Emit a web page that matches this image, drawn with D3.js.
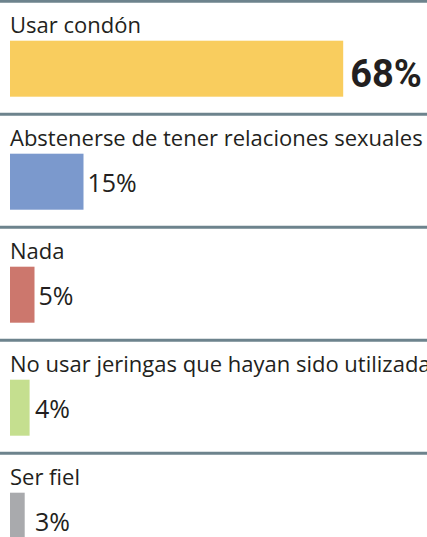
<!DOCTYPE html>
<html>
<head>
<meta charset="utf-8">
<script src="https://cdn.jsdelivr.net/npm/d3@7"></script>
<style>
  body { margin: 0; background: #fff; }
  svg { display: block; }
</style>
</head>
<body>
<div id="chart"></div>
<script>
// Data
const categories = [
    "Usar condón",
    "Abstenerse de tener relaciones sexuales",
    "Nada",
    "No usar jeringas que hayan sido utilizadas",
    "Ser fiel"
];
const values = [68, 15, 5, 4, 3];
const barColors = ["#f9cd5e", "#7b99cd", "#cc776d", "#c5df8f", "#a9aaad"];

function drawChart() {
    const width = 427, height = 537;
    const rowHeight = 113;

    const svg = d3.select("#chart")
        .append("svg")
        .attr("width", width)
        .attr("height", height);

    const data = categories.map((c, i) => ({ label: c, value: values[i], color: barColors[i] }));

    // rows
    const y = d3.scaleBand()
        .domain(categories)
        .range([1.2, 1.2 + rowHeight * categories.length])
        .paddingInner(0);

    // bar length
    const x = d3.scaleLinear()
        .domain([0, 100])
        .range([10, 500]);

    const row = svg.selectAll(".row")
        .data(data)
        .enter()
        .append("g")
        .attr("class", "row")
        .attr("transform", d => `translate(0,${y(d.label)})`);

    // separator line on top of each row
    row.append("line")
        .attr("x1", 0)
        .attr("x2", width)
        .attr("y1", 0)
        .attr("y2", 0)
        .attr("stroke", "#6d838d")
        .attr("stroke-width", 3);

    row.append("text")
        .attr("x", 10)
        .attr("y", 31.5)
        .attr("font-family", "'Open Sans', sans-serif")
        .attr("font-size", 22)
        .attr("fill", "#231f20")
        .text(d => d.label);

    row.append("rect")
        .attr("x", x(0))
        .attr("y", 39.5)
        .attr("width", d => x(d.value) - x(0))
        .attr("height", 56)
        .attr("fill", d => d.color);

    // value labels, the biggest one is bold
    row.append("text")
        .attr("x", (d, i) => i === 0 ? x(d.value) + 7 : Math.max(x(d.value) + 4, x(0) + 25))
        .attr("y", (d, i) => i === 0 ? 39.5 + 46 : 39.5 + 38)
        .attr("font-family", (d, i) => i === 0 ? "Roboto, sans-serif" : "'Open Sans', sans-serif")
        .attr("font-size", (d, i) => i === 0 ? 38 : 25)
        .attr("font-weight", (d, i) => i === 0 ? "bold" : "normal")
        .attr("fill", "#231f20")
        .text(d => d.value + "%");
}

drawChart();
</script>
</body>
</html>
